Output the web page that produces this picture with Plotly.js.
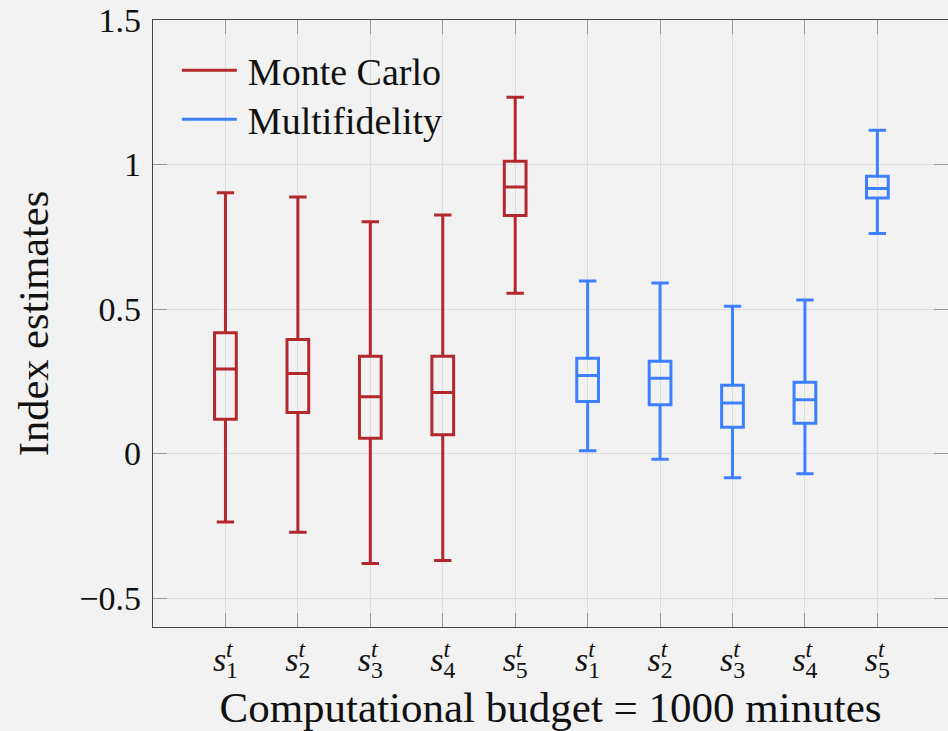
<!DOCTYPE html>
<html>
<head>
<meta charset="utf-8">
<script src="https://cdn.plot.ly/plotly-3.0.1.min.js"></script>
<style>
  html, body { margin: 0; padding: 0; background: #f2f2f2; }
  #chart { width: 948px; height: 731px; }
</style>
</head>
<body>
<div id="chart"></div>
<script>
// Sobol index estimates: five inputs, two estimators
const indexNames = ['1', '2', '3', '4', '5'];
const mcPositions = [1, 2, 3, 4, 5];
const mfPositions = [6, 7, 8, 9, 10];

// Monte Carlo box statistics
const mcLow    = [-0.237, -0.272, -0.380, -0.370, 0.555];
const mcQ1     = [0.119, 0.142, 0.053, 0.065, 0.824];
const mcMedian = [0.293, 0.277, 0.197, 0.211, 0.922];
const mcQ3     = [0.418, 0.395, 0.337, 0.337, 1.011];
const mcHigh   = [0.902, 0.888, 0.802, 0.825, 1.233];

// Multifidelity box statistics
const mfLow    = [0.010, -0.020, -0.084, -0.070, 0.761];
const mfQ1     = [0.180, 0.169, 0.091, 0.105, 0.884];
const mfMedian = [0.270, 0.261, 0.175, 0.186, 0.917];
const mfQ3     = [0.330, 0.319, 0.236, 0.247, 0.959];
const mfHigh   = [0.597, 0.590, 0.510, 0.531, 1.119];

const yTickVals = [-0.5, 0, 0.5, 1, 1.5];
const yTickText = ['\u22120.5', '0', '0.5', '1', '1.5'];

const RED = '#b2282c';
const BLUE = '#3d80ff';
const FONT = 'Liberation Serif';

const xTickVals = mcPositions.concat(mfPositions);
const xTickText = indexNames.concat(indexNames).map(
  n => '<i>s</i><sub>' + n + '</sub><sup><i>t</i></sup>'
);

function boxTrace(name, pos, low, q1, med, q3, high, color) {
  return {
    type: 'box', name: name, x: pos,
    lowerfence: low, q1: q1, median: med, q3: q3, upperfence: high,
    boxpoints: false, width: 0.3, whiskerwidth: 0.8,
    line: { color: color, width: 3 },
    fillcolor: 'rgba(0,0,0,0)',
    showlegend: false, hoverinfo: 'skip'
  };
}

function legendTrace(name, color) {
  return {
    type: 'scatter', mode: 'lines', name: name,
    x: [null], y: [null],
    line: { color: color, width: 3 }
  };
}

const data = [
  boxTrace('Monte Carlo', mcPositions, mcLow, mcQ1, mcMedian, mcQ3, mcHigh, RED),
  boxTrace('Multifidelity', mfPositions, mfLow, mfQ1, mfMedian, mfQ3, mfHigh, BLUE),
  legendTrace('Monte Carlo', RED),
  legendTrace('Multifidelity', BLUE)
];

const layout = {
  width: 948, height: 731,
  margin: { l: 153, r: 0, t: 20, b: 104 },
  paper_bgcolor: '#f2f2f2', plot_bgcolor: '#f2f2f2',
  font: { family: FONT, color: '#111', size: 34 },
  showlegend: true,
  legend: {
    x: 0.030, y: 0.9685, xanchor: 'left', yanchor: 'top',
    bgcolor: 'rgba(0,0,0,0)', borderwidth: 0,
    font: { family: FONT, size: 38, color: '#111' },
    itemwidth: 61, tracegroupgap: 0
  },
  xaxis: {
    range: [0, 10.975], tickmode: 'array',
    tickvals: xTickVals, ticktext: xTickText,
    ticks: 'inside', ticklen: 14, tickcolor: '#999', tickwidth: 1,
    showline: true, linecolor: '#444', linewidth: 1.3, mirror: 'ticks',
    showgrid: true, gridcolor: '#dddddd', gridwidth: 1, zeroline: false,
    tickfont: { family: FONT, size: 34 },
    ticklabelstandoff: 2,
    title: { text: 'Computational budget = 1000 minutes', font: { family: FONT, size: 43 }, standoff: 12 },
    automargin: false
  },
  yaxis: {
    range: [-0.6, 1.5], tickmode: 'array',
    tickvals: yTickVals, ticktext: yTickText,
    ticks: 'inside', ticklen: 14, tickcolor: '#999', tickwidth: 1,
    showline: true, linecolor: '#444', linewidth: 1.3, mirror: 'ticks',
    showgrid: true, gridcolor: '#dddddd', gridwidth: 1, zeroline: false,
    tickfont: { family: FONT, size: 34 },
    ticklabelstandoff: 4,
    title: { text: 'Index estimates', font: { family: FONT, size: 42.5 }, standoff: 17 },
    automargin: false
  }
};

Plotly.newPlot('chart', data, layout, { displayModeBar: false, staticPlot: true }).then(gd => {
  // Stack the superscript t above the subscript index in each x tick label
  gd.querySelectorAll('.xtick text').forEach(txt => {
    const spans = Array.from(txt.querySelectorAll(':scope > tspan'));
    let sub = null, sup = null;
    spans.forEach(s => {
      const dy = parseFloat(s.getAttribute('dy') || '0');
      if (!sub && dy > 0.2 && s.textContent.trim() !== '' && s.textContent !== '\u200b') sub = s;
      else if (!sup && dy < -0.4) sup = s;
    });
    if (sub && sup) {
      const w = sub.getComputedTextLength();
      sup.setAttribute('dx', (-w).toFixed(2));
    }
  });
  // Longer line samples and tighter row spacing in the legend
  const items = Array.from(gd.querySelectorAll('.legend .traces'));
  let firstY = null;
  items.forEach((tr, i) => {
    tr.querySelectorAll('path.js-line').forEach(p => p.setAttribute('d', 'M5,0h55'));
    const m = /translate\(([-\d.]+)[ ,]+([-\d.]+)\)/.exec(tr.getAttribute('transform') || '');
    if (m) {
      const x = parseFloat(m[1]);
      const y = parseFloat(m[2]);
      if (firstY === null) firstY = y;
      tr.setAttribute('transform', 'translate(' + x + ',' + (firstY + i * 49) + ')');
    }
  });
});
</script>
</body>
</html>
